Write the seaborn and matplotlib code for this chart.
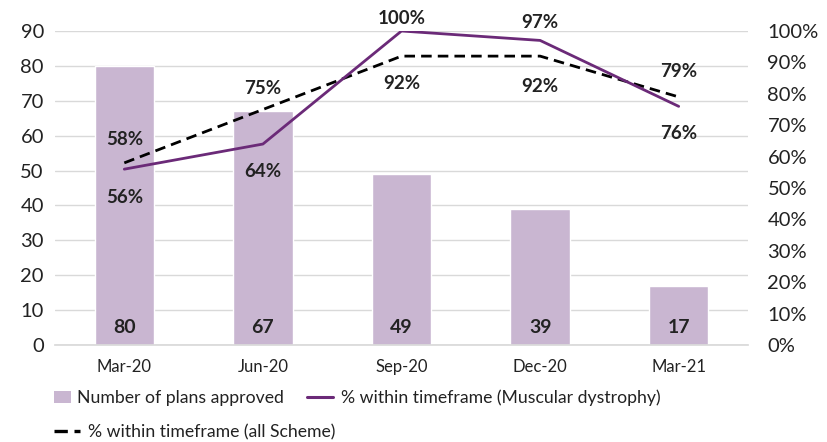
import matplotlib
matplotlib.use("Agg")
import matplotlib.pyplot as plt
import seaborn as sns
import pandas as pd
from matplotlib.lines import Line2D
from matplotlib.patches import Patch

# Quarterly data
quarters = ["Mar-20", "Jun-20", "Sep-20", "Dec-20", "Mar-21"]
plans_approved = [80, 67, 49, 39, 17]
pct_muscular = [56, 64, 100, 97, 76]
pct_scheme = [58, 75, 92, 92, 79]

bar_color = "#C9B6D1"
line_color = "#6B2A78"
text_color = "#222222"

sns.set_theme(style="white")
plt.rcParams["font.family"] = ["Lato", "DejaVu Sans"]

df = pd.DataFrame({"quarter": quarters, "plans": plans_approved,
                   "muscular": pct_muscular, "scheme": pct_scheme})

fig = plt.figure(figsize=(8.27, 4.42), dpi=100)
ax = fig.add_axes([55 / 827, 1 - 345 / 442, (748 - 55) / 827, (345 - 31) / 442])

sns.barplot(data=df, x="quarter", y="plans", color=bar_color, width=0.43,
            saturation=1, ax=ax, zorder=2)
ax.set_ylim(0, 90)
ax.set_xlim(-0.5, 4.5)
ax.set_yticks(range(0, 91, 10))
ax.yaxis.grid(True, color="#D9D9D9", linewidth=1, zorder=0)
ax.set_axisbelow(True)
for s in ["top", "right", "left"]:
    ax.spines[s].set_visible(False)
ax.spines["bottom"].set_color("#D9D9D9")
ax.set_xlabel("")
ax.set_ylabel("")
ax.tick_params(axis="y", length=0, labelsize=14.5, colors=text_color, pad=8)
ax.tick_params(axis="x", length=0, labelsize=12, colors=text_color, pad=10)

for i, v in enumerate(plans_approved):
    ax.text(i, 5, f"{v}", ha="center", va="center", fontsize=14,
            fontweight="bold", color=text_color, zorder=5)

ax2 = ax.twinx()
ax2.set_ylim(0, 100)
ax2.set_yticks(range(0, 101, 10))
ax2.set_yticklabels([f"{t}%" for t in range(0, 101, 10)])
for s in ax2.spines.values():
    s.set_visible(False)
ax2.tick_params(axis="y", length=0, labelsize=14.5, colors=text_color, pad=14)

x = list(range(len(quarters)))
dash = (0, (3.8, 2.2))
sns.lineplot(x=x, y=pct_scheme, ax=ax2, color="black", linewidth=2,
             linestyle=dash, zorder=3)
sns.lineplot(x=x, y=pct_muscular, ax=ax2, color=line_color, linewidth=2, zorder=4)

# value labels: which series sits above / below at each point
above = [pct_scheme[0], pct_scheme[1], pct_muscular[2], pct_muscular[3], pct_scheme[4]]
below = [pct_muscular[0], pct_muscular[1], pct_scheme[2], pct_scheme[3], pct_muscular[4]]
above_off = [7.3, 6.8, 4.1, 5.7, 8.0]
below_off = [-8.9, -8.9, -8.6, -9.6, -8.6]
for i in x:
    ax2.text(i, above[i] + above_off[i], f"{above[i]}%", ha="center", va="center",
             fontsize=13.5, fontweight="bold", color=text_color)
    ax2.text(i, below[i] + below_off[i], f"{below[i]}%", ha="center", va="center",
             fontsize=13.5, fontweight="bold", color=text_color)

legend_kw = dict(loc="center left", frameon=False, fontsize=12.7, borderpad=0,
                 borderaxespad=0, labelcolor=text_color)
items = [
    (Patch(facecolor=bar_color, edgecolor="none"), "Number of plans approved",
     54, 398, 0.95, 0.35),
    (Line2D([0], [0], color=line_color, linewidth=2.2),
     "% within timeframe (Muscular dystrophy)", 307, 398, 1.5, 0.4),
    (Line2D([0], [0], color="black", linewidth=2.4, linestyle=(0, (4, 2))),
     "% within timeframe (all Scheme)", 54, 432, 1.5, 0.45),
]
for handle, label, px, py, hl, tp in items:
    fig.legend([handle], [label], bbox_to_anchor=(px / 827, 1 - py / 442),
               handlelength=hl, handletextpad=tp, **legend_kw)

fig.savefig("out.png", dpi=100)
